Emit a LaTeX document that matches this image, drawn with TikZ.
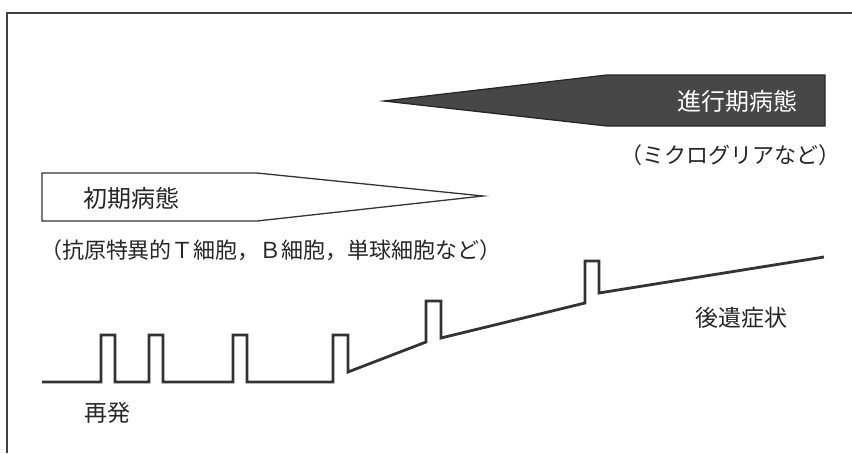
\documentclass[tikz,border=0pt]{standalone}
\usepackage{fontspec}
\setmainfont{Noto Sans CJK JP}
\begin{document}
\begin{tikzpicture}[x=1pt,y=-1pt,
  lbl/.style={inner sep=0pt, text=black!85, font=\fontsize{23}{26}\selectfont},
  plbl/.style={inner sep=0pt, text=black!85, font=\fontsize{22}{26}\selectfont},
  frameline/.style={draw=black!75, line width=1.4pt},
  wave/.style={draw=black!80, line width=2.8pt, line join=miter},
  lightarrow/.style={draw=black!80, fill=white, line width=1.3pt},
  darkarrow/.style={draw=black!85, fill=black!72, line width=1.3pt}]
\useasboundingbox (0,0) rectangle (852,453);
% frame
\draw[frameline] (7,453) -- (7,13) -- (852,13);
% advanced-stage arrow
\path[darkarrow] (384,101) -- (607,75) -- (825,75) -- (825,126) -- (607,126) -- cycle;
\node[lbl, text=white, font=\fontsize{24}{26}\selectfont] (adv) at (737,101) {進行期病態};
\node[plbl] (micro) at (730,155) {（ミクログリアなど）};
% early-stage arrow
\path[lightarrow] (42,173) -- (257,173) -- (483,196) -- (257,221) -- (42,221) -- cycle;
\node[lbl, font=\fontsize{24}{26}\selectfont] (early) at (131,198) {初期病態};
\node[plbl] (cells) at (271,250) {（抗原特異的Ｔ細胞，Ｂ細胞，単球細胞など）};
% relapse waveform
\draw[wave] (42,382) -- (101,382) -- (101,335) -- (115,335) -- (115,382)
  -- (149,382) -- (149,335) -- (163,335) -- (163,382)
  -- (233,382) -- (233,335) -- (247,335) -- (247,382)
  -- (333,382) -- (333,335) -- (348,335) -- (348,372)
  -- (426,342) -- (426,301) -- (441,301) -- (441,338)
  -- (585,303) -- (585,261) -- (599,261) -- (599,293)
  -- (824,257);
\node[lbl] (relapse) at (107,413) {再発};
\node[lbl] (sequelae) at (741,318) {後遺症状};
\end{tikzpicture}
\end{document}
